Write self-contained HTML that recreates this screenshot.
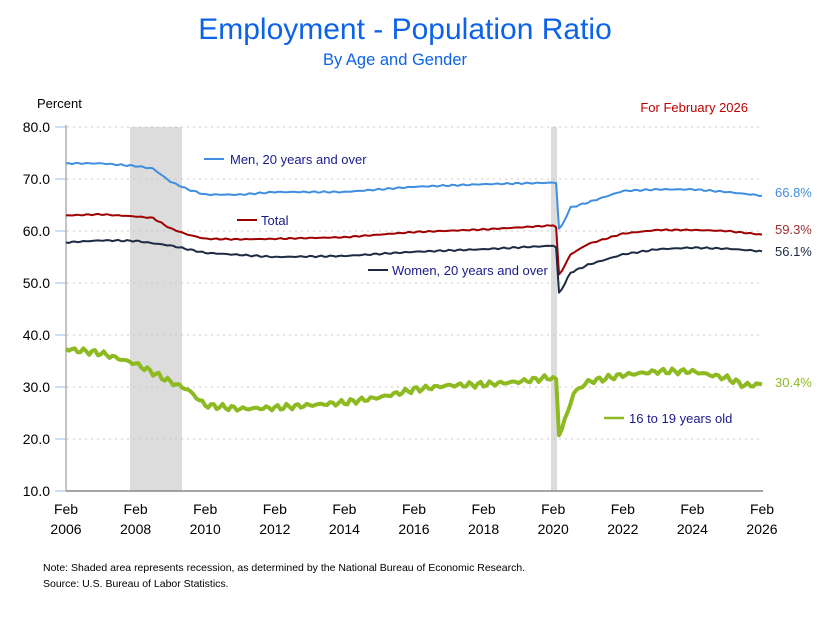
<!DOCTYPE html>
<html><head><meta charset="utf-8"><style>
body{margin:0;background:#fff;width:831px;height:632px;overflow:hidden}
svg{display:block}
text{font-family:"Liberation Sans","DejaVu Sans",sans-serif}
</style></head><body>
<svg id="s" width="831" height="632" xmlns="http://www.w3.org/2000/svg">
<text x="405" y="39" text-anchor="middle" font-size="30" fill="#0d63e8">Employment - Population Ratio</text>
<text x="395" y="65" text-anchor="middle" font-size="16.5" fill="#0d63e8">By Age and Gender</text>
<text x="37" y="108" font-size="13" fill="#000">Percent</text>
<text x="748" y="112" text-anchor="end" font-size="13" fill="#c00000">For February 2026</text>
<rect x="130" y="127" width="52" height="364" fill="#dcdcdc"/>
<rect x="551" y="127" width="6" height="364" fill="#dcdcdc"/>
<g id="grid" stroke="#c8c8c8" stroke-dasharray="2,4" stroke-width="1"></g>
<g id="yl" font-size="14" fill="#000" text-anchor="end"></g>
<line x1="66" y1="125" x2="66" y2="491" stroke="#888" stroke-width="1"/>
<line x1="66" y1="491" x2="763" y2="491" stroke="#888" stroke-width="1.5"/>
<g id="xl" font-size="14" fill="#000" text-anchor="middle"></g>
<g id="lines" fill="none" stroke-linejoin="round"></g>
<line x1="204" y1="159" x2="224" y2="159" stroke="#3f8ee0" stroke-width="2"/>
<text x="230" y="164" font-size="13" fill="#1a1a8c">Men, 20 years and over</text>
<line x1="237" y1="220" x2="257" y2="220" stroke="#a00000" stroke-width="2"/>
<text x="261" y="225" font-size="13" fill="#1a1a8c">Total</text>
<line x1="368" y1="270" x2="388" y2="270" stroke="#1c2a44" stroke-width="2"/>
<text x="392" y="275" font-size="13" fill="#1a1a8c">Women, 20 years and over</text>
<line x1="604" y1="418" x2="624" y2="418" stroke="#8dba21" stroke-width="2.5"/>
<text x="629" y="423" font-size="13" fill="#1a1a8c">16 to 19 years old</text>
<text x="775" y="197" font-size="13" fill="#3f8ee0">66.8%</text>
<text x="775" y="234" font-size="13" fill="#a03030">59.3%</text>
<text x="775" y="256" font-size="13" fill="#1c2a44">56.1%</text>
<text x="775" y="387" font-size="13" fill="#8dba21">30.4%</text>
<text x="43" y="571" font-size="10.5" fill="#000">Note: Shaded area represents recession, as determined by the National Bureau of Economic Research.</text>
<text x="43" y="587" font-size="10.5" fill="#000">Source: U.S. Bureau of Labor Statistics.</text>
</svg>
<script>
var NS="http://www.w3.org/2000/svg";
function el(p,t,a,tx){var e=document.createElementNS(NS,t);for(var k in a)e.setAttribute(k,a[k]);if(tx)e.textContent=tx;document.getElementById(p).appendChild(e);}
function Y(v){return 127+(80-v)*5.2;}
function X(yr){return 66+(yr-2006)*34.8;}
for(var v=10;v<=80;v+=10){var y=Y(v);if(v>10)el("grid","line",{x1:67,y1:y,x2:762,y2:y});
el("grid","line",{x1:55,y1:y,x2:66,y2:y,stroke:"#cde0f5","stroke-dasharray":"none","stroke-width":2});
el("yl","text",{x:50,y:y+5},v.toFixed(1));}
for(var yr=2006;yr<=2026;yr+=2){el("xl","text",{x:X(yr),y:514},"Feb");el("xl","text",{x:X(yr),y:534},""+yr);}
var D={
men:[[2006,73],[2007,73],[2008,72.5],[2008.5,72],[2009,69.5],[2009.5,68],[2010,67],[2011,67],[2012,67.5],[2014,67.5],[2016,68.5],[2018,69],[2020.0,69.3],[2020.1,69.2],[2020.17,60],[2020.5,64.5],[2021,65.5],[2022,67.7],[2023,68],[2024,68],[2025,67.5],[2026,66.8]],
tot:[[2006,63],[2007,63.2],[2008,62.8],[2008.5,62.5],[2009,60.5],[2009.5,59.3],[2010,58.5],[2011,58.4],[2012,58.5],[2014,58.8],[2015,59.3],[2016,59.8],[2018,60.3],[2020.08,61.1],[2020.17,51.3],[2020.5,55.5],[2021,57.5],[2022,59.5],[2023,60.2],[2024,60.2],[2025,60],[2026,59.3]],
wom:[[2006,57.8],[2007,58.2],[2008,58.1],[2009,57.2],[2009.5,56.5],[2010,55.8],[2012,55],[2014,55.2],[2016,56],[2018,56.5],[2020.08,57.2],[2020.17,47.8],[2020.5,52],[2021,53.5],[2022,55.5],[2023,56.5],[2024,56.8],[2025,56.6],[2026,56.1]],
teen:[[2006,37.3],[2007,36.5],[2008,34.5],[2009,31],[2009.5,29.5],[2010,26.5],[2011,25.8],[2012,26],[2013,26.5],[2014,27],[2015,28],[2016,29.5],[2017,30.3],[2018,30.5],[2019,31],[2020.08,32],[2020.17,20.3],[2020.6,29],[2021,31],[2022,32.3],[2023,33],[2024,33],[2025,31.7],[2025.5,30.3],[2026,30.5]]};
function interp(d,t){for(var i=0;i<d.length-1;i++){if(t<=d[i+1][0]){var f=(t-d[i][0])/(d[i+1][0]-d[i][0]);return d[i][1]+f*(d[i+1][1]-d[i][1]);}}return d[d.length-1][1];}
function draw(key,col,w,j,seed){var d=D[key],pts=[];for(var m=0;m<=240;m++){var t=2006+m/12;var v=interp(d,t);
var near=Math.abs(t-2020.12)<0.2||m==240||m==0;if(!near)v+=j*(Math.sin(m*1.7+seed)*0.6+Math.sin(m*4.3+seed*2)*0.4);
pts.push(X(t).toFixed(1)+","+Y(v).toFixed(1));}
el("lines","polyline",{points:pts.join(" "),stroke:col,"stroke-width":w});}
draw("men","#3f8ee0",2,0.15,1);
draw("tot","#a00000",2,0.12,2);
draw("wom","#1c2a44",2,0.15,3);
draw("teen","#8dba21",4,0.6,4);
</script>
</body></html>
